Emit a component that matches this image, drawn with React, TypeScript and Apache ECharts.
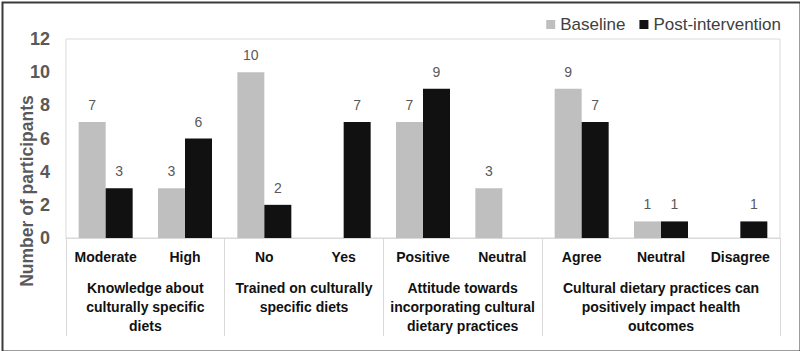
import React, { useEffect, useRef } from "react";
import * as echarts from "echarts";

const categories = ["Moderate", "High", "No", "Yes", "Positive", "Neutral", "Agree", "Neutral", "Disagree"];
const baseline = [7, 3, 10, 0, 7, 3, 9, 1, 0];
const postIntervention = [3, 6, 2, 7, 9, 0, 7, 1, 1];
const groupLabels = [
  "Knowledge about\nculturally specific\ndiets",
  "Trained on culturally\nspecific diets",
  "Attitude towards\nincorporating cultural\ndietary practices",
  "Cultural dietary practices can\npositively impact health\noutcomes",
];
const groupBoundaries = [0, 2, 4, 6, 9];
const groupCenters = [1, 3, 5, 7.5];
const yTicks = [0, 2, 4, 6, 8, 10, 12];

const FONT = "'Liberation Sans', Arial, sans-serif";

export default function App() {
  const ref = useRef<HTMLDivElement>(null);
  useEffect(() => {
    if (!ref.current) return;
    const chart = echarts.init(ref.current, null, { renderer: "svg" });
    const labelFmt = (p: any) => (p.value === 0 ? "" : String(p.value));
    chart.setOption({
      animation: false,
      textStyle: { fontFamily: FONT },
      legend: {
        right: 14,
        top: 11,
        icon: "rect",
        itemWidth: 9,
        itemHeight: 9,
        itemGap: 14,
        itemStyle: { borderWidth: 0 },
        textStyle: { fontSize: 17, color: "#404040", fontFamily: FONT },
        data: ["Baseline", "Post-intervention"],
      },
      grid: {
        left: 66,
        right: 20,
        top: 39,
        bottom: 113,
        show: true,
        borderColor: "#d9d9d9",
        borderWidth: 1,
      },
      xAxis: [
        {
          type: "category",
          data: categories,
          axisLine: { show: true, lineStyle: { color: "#d9d9d9", width: 1 } },
          axisTick: { show: false },
          axisLabel: {
            interval: 0,
            margin: 12,
            fontSize: 14,
            fontWeight: "bold",
            color: "#111",
            fontFamily: FONT,
          },
        },
        {
          type: "value",
          min: 0,
          max: 9,
          position: "bottom",
          axisLine: { show: false },
          splitLine: { show: false },
          axisTick: {
            show: true,
            customValues: groupBoundaries,
            length: 98,
            lineStyle: { color: "#d9d9d9", width: 1 },
          },
          axisLabel: {
            customValues: groupCenters,
            margin: 40,
            fontSize: 14,
            fontWeight: "bold",
            color: "#111",
            lineHeight: 19,
            fontFamily: FONT,
            align: "center",
            verticalAlign: "top",
            formatter: (v: number) => {
              const i = groupCenters.indexOf(v);
              return i >= 0 ? groupLabels[i] : "";
            },
          },
        },
      ],
      yAxis: {
        type: "value",
        min: 0,
        max: 12,
        interval: 2,
        axisLine: { show: false },
        axisTick: { show: false },
        splitLine: { show: false },
        axisLabel: {
          margin: 16,
          fontSize: 18,
          fontWeight: "bold",
          color: "#595959",
          fontFamily: FONT,
          formatter: (v: number) => (yTicks.includes(v) ? String(v) : ""),
        },
      },
      series: [
        {
          name: "Baseline",
          type: "bar",
          data: baseline,
          barWidth: 27,
          barGap: "0%",
          itemStyle: { color: "#bfbfbf" },
          label: {
            show: true,
            position: "top",
            distance: 10,
            fontSize: 14,
            color: "#595959",
            fontFamily: FONT,
            formatter: labelFmt,
          },
        },
        {
          name: "Post-intervention",
          type: "bar",
          data: postIntervention,
          barWidth: 27,
          itemStyle: { color: "#111111" },
          label: {
            show: true,
            position: "top",
            distance: 10,
            fontSize: 14,
            color: "#595959",
            fontFamily: FONT,
            formatter: labelFmt,
          },
        },
      ],
      graphic: [
        {
          type: "rect",
          left: 0,
          top: 0,
          shape: { x: 1, y: 1, width: 798, height: 349 },
          style: { fill: "none", stroke: "#3a3a3a", lineWidth: 2 },
          silent: true,
        },
        {
          type: "text",
          x: 27,
          y: 191,
          rotation: Math.PI / 2,
          style: {
            text: "Number of participants",
            fontSize: 17.5,
            fontWeight: "bold",
            fill: "#595959",
            fontFamily: FONT,
            align: "center",
            verticalAlign: "middle",
          },
        },
      ],
    });
    return () => chart.dispose();
  }, []);
  return (
    <div
      ref={ref}
      style={{ position: "fixed", left: 0, top: 0, width: 800, height: 351, background: "#fff" }}
    />
  );
}
